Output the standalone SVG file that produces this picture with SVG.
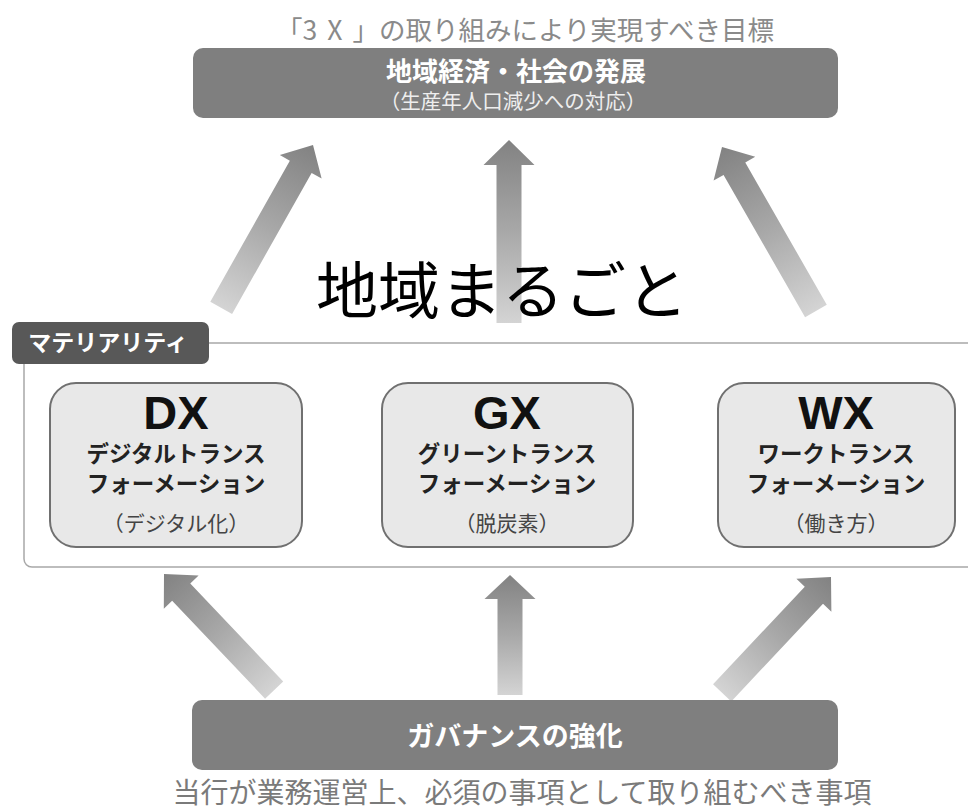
<svg xmlns="http://www.w3.org/2000/svg" width="968" height="810" viewBox="0 0 968 810">
<defs>
<linearGradient id="ag" x1="0" y1="0" x2="0" y2="1">
<stop offset="0" stop-color="#828282"/>
<stop offset="0.5" stop-color="#a8a8a8"/>
<stop offset="1" stop-color="#d4d4d4"/>
</linearGradient>
<style>
text{font-family:"Noto Sans CJK JP","Noto Sans",sans-serif;text-anchor:middle}
.arrow{fill:url(#ag)}
.dark{fill:#7f7f7f}
.mat{fill:#e8e8e8;stroke:#707070;stroke-width:2}
.big{font-family:"Liberation Sans",Arial,sans-serif;font-size:47px;font-weight:700;fill:#111}
.kt{font-size:22.5px;font-weight:700;fill:#222}
.sub{font-size:21px;fill:#444}
</style>
</defs>
<rect width="968" height="810" fill="#fff"/>

<text x="525" y="40" font-size="26.5" fill="#8a8a8a">「<tspan letter-spacing="10">3X</tspan>」の取り組みにより実現すべき目標</text>

<g id="goal">
<rect class="dark" x="193" y="48" width="645" height="70" rx="10"/>
<text x="516" y="81" font-size="26" font-weight="700" fill="#fff">地域経済・社会の発展</text>
<text x="513" y="109" font-size="20.5" fill="#eeeeee">（生産年人口減少への対応）</text>
</g>

<g id="connectors">
<path class="arrow" transform="translate(313,145) rotate(29.4)" d="M0,0 L24,25 L12.5,25 L12.5,187 L-12.5,187 L-12.5,25 L-24,25 Z"/>
<path class="arrow" transform="translate(509,140)" d="M0,0 L25.5,25 L12.5,25 L12.5,183 L-12.5,183 L-12.5,25 L-25.5,25 Z"/>
<path class="arrow" transform="translate(722,147) rotate(-29.8)" d="M0,0 L24,25 L12.5,25 L12.5,189 L-12.5,189 L-12.5,25 L-24,25 Z"/>
<path class="arrow" transform="translate(164,574) rotate(-43.5)" d="M0,0 L24,25 L12.5,25 L12.5,160 L-12.5,160 L-12.5,25 L-24,25 Z"/>
<path class="arrow" transform="translate(510,575)" d="M0,0 L25.5,24 L12.5,24 L12.5,120 L-12.5,120 L-12.5,24 L-25.5,24 Z"/>
<path class="arrow" transform="translate(831,577) rotate(43.2)" d="M0,0 L24,25 L12.5,25 L12.5,159 L-12.5,159 L-12.5,25 L-24,25 Z"/>
</g>

<text x="502" y="314" font-size="62" fill="#000">地域まるごと</text>

<g id="materiality">
<rect x="24" y="343" width="970" height="224" rx="8" fill="none" stroke="#a8a8a8" stroke-width="1.5"/>
<rect x="12" y="322" width="197" height="42" rx="7" fill="#585858"/>
<text x="108" y="351" font-size="23" font-weight="700" fill="#fff">マテリアリティ</text>
</g>

<g id="dx">
<rect class="mat" x="50" y="383" width="252" height="164" rx="26"/>
<text class="big" x="176" y="429">DX</text>
<text class="kt" x="176" y="462">デジタルトランス</text>
<text class="kt" x="176" y="492">フォーメーション</text>
<text class="sub" x="176" y="531">（デジタル化）</text>
</g>

<g id="gx">
<rect class="mat" x="382" y="383" width="251" height="164" rx="26"/>
<text class="big" x="507" y="429">GX</text>
<text class="kt" x="507" y="462">グリーントランス</text>
<text class="kt" x="507" y="492">フォーメーション</text>
<text class="sub" x="507" y="531">（脱炭素）</text>
</g>

<g id="wx">
<rect class="mat" x="718" y="383" width="237" height="164" rx="26"/>
<text class="big" x="836" y="429">WX</text>
<text class="kt" x="836" y="462">ワークトランス</text>
<text class="kt" x="836" y="492">フォーメーション</text>
<text class="sub" x="836" y="531">（働き方）</text>
</g>

<g id="governance">
<rect class="dark" x="192" y="700" width="646" height="70" rx="10"/>
<text x="515" y="746" font-size="27" font-weight="700" fill="#fff">ガバナンスの強化</text>
</g>

<text x="522" y="803" font-size="28" fill="#7a7a7a">当行が業務運営上、必須の事項として取り組むべき事項</text>
</svg>
